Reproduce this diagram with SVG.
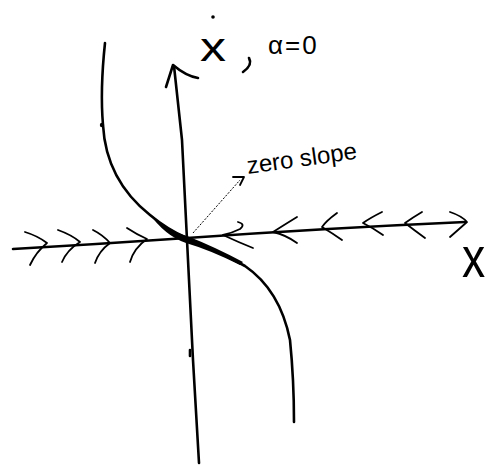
<svg xmlns="http://www.w3.org/2000/svg" width="491" height="465" viewBox="0 0 491 465">
<style>
.s{fill:none;stroke:#000;stroke-width:2.6;stroke-linecap:round;stroke-linejoin:round}
.t{fill:none;stroke:#000;stroke-width:1.8;stroke-linecap:round;stroke-linejoin:round}
.lbl{font-family:"Liberation Sans",Arial,sans-serif;fill:#000}
</style>
<rect width="491" height="465" fill="#fff"/>
<g id="axes">
<path class="s" d="M199,463 L193,360 L187,240 L182,140 L174,66"/>
<path class="s" d="M166,87 L173,65 Q186,76 198,78"/>
<path class="s" d="M13,249 Q100,244 187,238 Q330,228 465,222"/>
<path class="s" d="M190,350 l0,6"/>
</g>
<g id="arrows-left">
<path class="t" d="M25,232 Q38,236 47,243 Q36,252 30,265"/>
<path class="t" d="M58,230 Q72,235 80,242 Q67,250 62,262"/>
<path class="t" d="M93,230 Q103,235 110,243 Q99,251 95,263"/>
<path class="t" d="M127,228 Q136,234 147,239 Q134,248 130,262"/>
</g>
<g id="arrows-right">
<path class="t" d="M238,222 Q246,224 240,229 Q232,233 223,235 Q238,242 253,248"/>
<path class="t" d="M297,217 Q284,225 273,232 Q286,235 297,243"/>
<path class="t" d="M337,213 Q326,221 322,227 Q332,233 342,240"/>
<path class="t" d="M382,212 Q370,218 363,223 Q373,228 383,235"/>
<path class="t" d="M422,212 Q412,218 405,223 Q414,230 425,238"/>
<path class="t" d="M450,212 Q462,216 467,222 Q458,230 450,237"/>
</g>
<g id="trajectory">
<path class="s" d="M105,43 Q100,90 103,125 Q106,180 150,215 Q168,230 187,238 Q220,252 245,266 Q280,290 290,340 Q294,380 294,422"/>
<path d="M148,212 Q170,232 187,236 Q215,247 243,262 L240,265 Q210,250 186,243 Q165,236 148,212 Z" fill="#000"/>
<circle cx="102" cy="125" r="2.2" fill="#000"/>
</g>
<g id="annotation">
<path d="M193,233 L240,180" fill="none" stroke="#000" stroke-width="1" stroke-dasharray="2,1.5"/>
<path class="t" d="M233,177 L244,177 L240,185" stroke-width="1.4"/>
<text class="lbl" x="248" y="174" font-size="24" transform="rotate(-8 248 174)">zero slope</text>
</g>
<g id="labels">
<text class="lbl" x="200" y="61" font-size="40" transform="translate(200 61) scale(1.3 1) translate(-200 -61)">x</text>
<circle cx="213" cy="17" r="1.8" fill="#000"/>
<path class="s" d="M249,58 Q253,65 243,72"/>
<text class="lbl" x="268" y="54" font-size="26" letter-spacing="2">α=0</text>
<text class="lbl" x="462" y="277" font-size="58" transform="translate(462 277) scale(0.8 1) translate(-462 -277)">x</text>
</g>
</svg>
